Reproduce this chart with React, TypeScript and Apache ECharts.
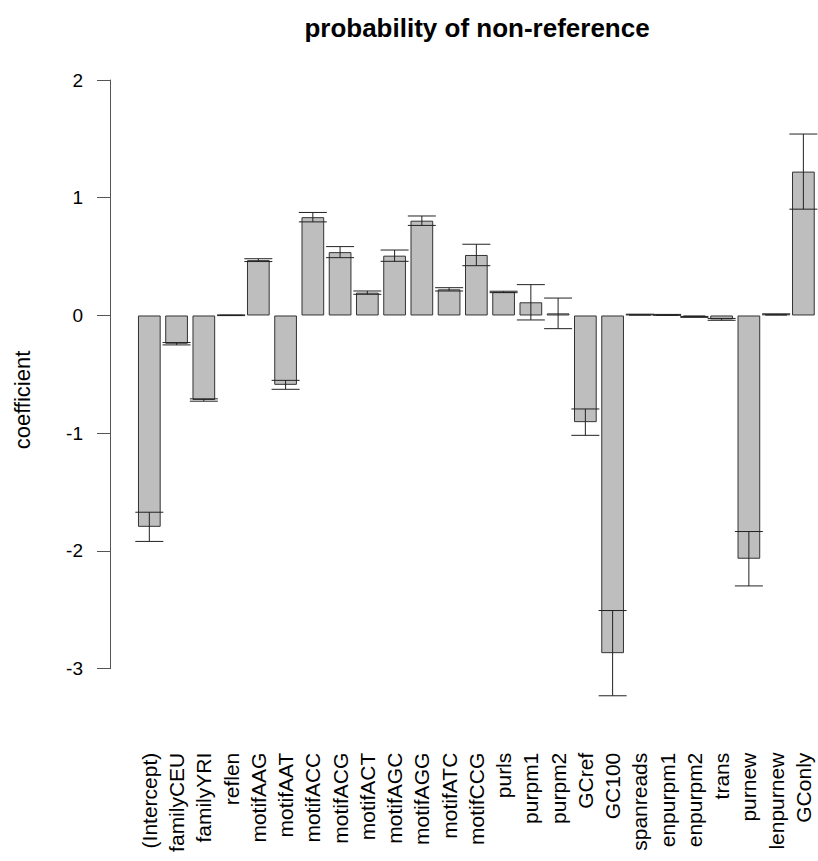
import React, { useEffect, useRef } from "react";
import * as echarts from "echarts";

const categories = [
  "(Intercept)", "familyCEU", "familyYRI", "reflen", "motifAAG", "motifAAT",
  "motifACC", "motifACG", "motifACT", "motifAGC", "motifAGG", "motifATC",
  "motifCCG", "purls", "purpm1", "purpm2", "GCref", "GC100", "spanreads",
  "enpurpm1", "enpurpm2", "trans", "purnew", "lenpurnew", "GConly",
];

const coefficients = [
  -1.795, -0.24, -0.718, 0.002, 0.47, -0.589,
  0.835, 0.538, 0.194, 0.508, 0.805, 0.222,
  0.514, 0.2, 0.112, 0.018, -0.906, -2.868, 0.008,
  0.005, -0.012, -0.033, -2.066, 0.01, 1.222,
];

const stdErrors = [
  0.124, 0.01, 0.01, 0.003, 0.012, 0.038,
  0.04, 0.047, 0.014, 0.048, 0.04, 0.014,
  0.091, 0.006, 0.15, 0.13, 0.112, 0.362, 0.003,
  0.004, 0.004, 0.008, 0.231, 0.004, 0.319,
];

const yTicks = { min: -3, max: 2, interval: 1 };

const FONT = "'Liberation Sans', Arial, Helvetica, sans-serif";

export default function App() {
  const ref = useRef<HTMLDivElement>(null);

  useEffect(() => {
    document.body.style.margin = "0";
    if (!ref.current) return;
    const chart = echarts.init(ref.current, undefined, { renderer: "svg" });

    const errData = coefficients.map((v, i) => [i, v, stdErrors[i]]);

    chart.setOption({
      animation: false,
      backgroundColor: "#ffffff",
      grid: { left: 135.7, right: 1, top: 80, bottom: 192.3, containLabel: false },
      xAxis: {
        type: "category",
        data: categories,
        axisLine: { show: false },
        axisTick: { show: false },
        splitLine: { show: false },
        axisLabel: {
          rotate: 90,
          interval: 0,
          margin: 84,
          fontSize: 21,
          color: "#000",
          fontFamily: FONT,
        },
      },
      yAxis: {
        type: "value",
        min: yTicks.min,
        max: yTicks.max,
        interval: yTicks.interval,
        offset: 25.7,
        splitLine: { show: false },
        axisLine: { show: true, lineStyle: { color: "#555", width: 1 } },
        axisTick: { show: true, length: 13, lineStyle: { color: "#555", width: 1 } },
        axisLabel: { margin: 27, fontSize: 19, color: "#000", fontFamily: FONT },
      },
      series: [
        {
          type: "bar",
          data: coefficients,
          barWidth: 22.7,
          itemStyle: { color: "#bebebe", borderColor: "#333", borderWidth: 1 },
          clip: false,
        },
        {
          type: "custom",
          data: errData,
          clip: false,
          z: 10,
          renderItem: (params: any, api: any) => {
            const i = api.value(0);
            const v = api.value(1);
            const se = api.value(2);
            const top = api.coord([i, v + se]);
            const bot = api.coord([i, v - se]);
            const half = 14;
            const style = { stroke: "#222", lineWidth: 1 };
            return {
              type: "group",
              children: [
                { type: "line", shape: { x1: top[0], y1: top[1], x2: bot[0], y2: bot[1] }, style },
                { type: "line", shape: { x1: top[0] - half, y1: top[1], x2: top[0] + half, y2: top[1] }, style },
                { type: "line", shape: { x1: bot[0] - half, y1: bot[1], x2: bot[0] + half, y2: bot[1] }, style },
              ],
            };
          },
        },
      ],
      graphic: [
        {
          type: "text",
          x: 477,
          y: 28,
          style: {
            text: "probability of non-reference",
            font: `bold 26px ${FONT}`,
            fill: "#000",
            textAlign: "center",
            textVerticalAlign: "middle",
          },
        },
        {
          type: "text",
          x: 22,
          y: 400,
          rotation: Math.PI / 2,
          style: {
            text: "coefficient",
            font: `22px ${FONT}`,
            fill: "#000",
            textAlign: "center",
            textVerticalAlign: "middle",
          },
        },
      ],
    });

    return () => chart.dispose();
  }, []);

  return <div ref={ref} style={{ width: 818, height: 861 }} />;
}
